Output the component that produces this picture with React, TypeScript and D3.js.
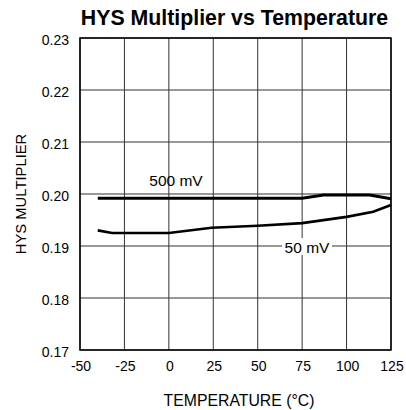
import React from "react";
import * as d3 from "d3";

const temps500 = [-40, 75, 87, 113, 125];
const vals500 = [0.1992, 0.1992, 0.1998, 0.1998, 0.1991];
const temps50 = [-40, -32, 0, 24, 50, 75, 100, 115, 125];
const vals50 = [0.193, 0.1925, 0.1925, 0.1935, 0.1939, 0.1944, 0.1956, 0.1966, 0.1979];
const xTicks = [-50, -25, 0, 25, 50, 75, 100, 125];
const yTicks = [0.17, 0.18, 0.19, 0.2, 0.21, 0.22, 0.23];

const width = 406;
const height = 410;
const margin = { top: 38, right: 15, bottom: 60, left: 80 };

const App = () => {
  const x = d3.scaleLinear().domain([-50, 125]).range([margin.left, width - margin.right]);
  const y = d3.scaleLinear().domain([0.17, 0.23]).range([height - margin.bottom, margin.top]);
  const line = d3
    .line<[number, number]>()
    .x((d) => x(d[0]))
    .y((d) => y(d[1]));
  const s500 = temps500.map((t, i) => [t, vals500[i]] as [number, number]);
  const s50 = temps50.map((t, i) => [t, vals50[i]] as [number, number]);
  const font = "'Liberation Sans', Arial, sans-serif";

  return (
    <svg
      width={width}
      height={height}
      style={{ position: "absolute", left: 0, top: 0, background: "#fff" }}
      fontFamily={font}
    >
      <text x={234.5} y={25} textAnchor="middle" fontSize={21.3} fontWeight="bold">
        HYS Multiplier vs Temperature
      </text>
      {/* grid */}
      {xTicks.map((t) => (
        <line key={"gx" + t} x1={x(t)} x2={x(t)} y1={y(0.17)} y2={y(0.23)} stroke="#333" strokeWidth={1} />
      ))}
      {yTicks.map((t) => (
        <line key={"gy" + t} x1={x(-50)} x2={x(125)} y1={y(t)} y2={y(t)} stroke="#333" strokeWidth={1} />
      ))}
      <rect
        x={x(-50)}
        y={y(0.23)}
        width={x(125) - x(-50)}
        height={y(0.17) - y(0.23)}
        fill="none"
        stroke="#000"
        strokeWidth={1.5}
      />
      {/* tick labels */}
      {yTicks.map((t) => (
        <text key={"ly" + t} x={x(-50) - 11} y={y(t) + 7} textAnchor="end" fontSize={14}>
          {t.toFixed(2)}
        </text>
      ))}
      {xTicks.map((t) => (
        <text key={"lx" + t} x={x(t) + 1} y={371} textAnchor="middle" fontSize={14}>
          {t}
        </text>
      ))}
      {/* curves */}
      <path d={line(s500) || ""} fill="none" stroke="#000" strokeWidth={3} />
      <path d={line(s50) || ""} fill="none" stroke="#000" strokeWidth={2.6} />
      <text x={176} y={186} textAnchor="middle" fontSize={15.5}>
        500 mV
      </text>
      <rect x={282} y={238} width={50} height={17} fill="#fff" />
      <text x={307} y={253} textAnchor="middle" fontSize={15.5}>
        50 mV
      </text>
      {/* axis titles */}
      <text
        transform={`translate(26, ${(y(0.17) + y(0.23)) / 2}) rotate(-90)`}
        textAnchor="middle"
        fontSize={14.8}
      >
        HYS MULTIPLIER
      </text>
      <text x={239} y={406} textAnchor="middle" fontSize={15.8}>
        TEMPERATURE (°C)
      </text>
    </svg>
  );
};

export default App;
